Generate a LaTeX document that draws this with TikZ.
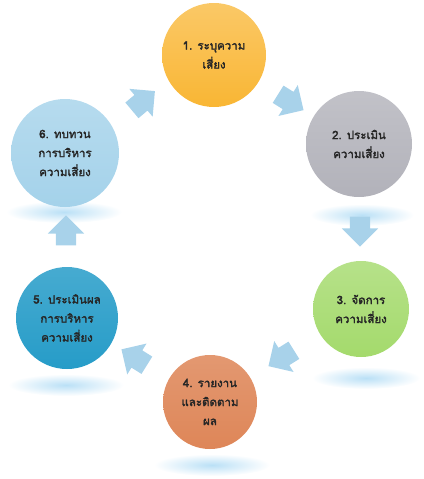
\documentclass[tikz,border=0pt]{standalone}
\usepackage{fontspec}
\newfontfamily\thaifont[Script=Thai,FakeBold=2.2]{Loma}
\usepackage{tikz}
\usetikzlibrary{shapes.arrows,calc}
\definecolor{stepone}{RGB}{249,182,52}
\definecolor{steptwo}{RGB}{178,178,186}
\definecolor{stepthree}{RGB}{164,218,108}
\definecolor{stepfour}{RGB}{222,134,88}
\definecolor{stepfive}{RGB}{38,156,200}
\definecolor{stepsix}{RGB}{164,210,234}
\definecolor{flowblue}{RGB}{168,210,234}
\definecolor{glowblue}{RGB}{186,224,246}
\tikzset{
  % วงกลมของแต่ละขั้น
  stage/.style={
    circle,
    inner sep=0pt,
    align=center,
    font=\thaifont\fontsize{11.5}{19}\selectfont,
    text=black!85
  },
  % ลูกศรระหว่างขั้น
  flow/.style={
    single arrow,
    fill=flowblue,
    draw=none,
    inner xsep=0pt,
    inner ysep=10pt,
    minimum height=30pt,
    single arrow head extend=8pt,
    single arrow head indent=0pt
  },
  % เงาสะท้อนใต้วงกลม
  glow/.style={inner color=glowblue, outer color=white}
}

\begin{document}
\begin{tikzpicture}[x=1pt,y=-1pt]
    \useasboundingbox (0,0) rectangle (423,479);

    % Reflections
    \foreach \x/\y/\w in {362/215/52, 366/378/54, 212/465/58, 66/385/58, 64/212/58} {
        \shade[glow] (\x,\y) ellipse ({\w pt} and 11pt);
    }

    % Stages
    \node[stage, minimum size=104pt, top color=stepone!75!white, bottom color=stepone] (c1) at (214,55) {1. ระบุความ\\เสี่ยง};
    \node[stage, minimum size=106pt, top color=steptwo!80!white, bottom color=steptwo] (c2) at (359,144) {2. ประเมิน\\ความเสี่ยง};
    \node[stage, minimum size=96pt, top color=stepthree!80!white, bottom color=stepthree] (c3) at (361,309) {3. จัดการ\\ความเสี่ยง};
    \node[stage, minimum size=94pt, top color=stepfour!85!white, bottom color=stepfour] (c4) at (210,402) {4. รายงาน\\และติดตาม\\ผล};
    \node[stage, minimum size=102pt, top color=stepfive!85!white, bottom color=stepfive] (c5) at (67,318) {5. ประเมินผล\\การบริหาร\\ความเสี่ยง};
    \node[stage, minimum size=108pt, top color=stepsix!80!white, bottom color=stepsix] (c6) at (65,153) {6. ทบทวน\\การบริหาร\\ความเสี่ยง};

    % Arrows between stages
    \foreach \a/\b/\r in {c6/c1/40, c1/c2/-32, c2/c3/-90, c3/c4/212, c4/c5/148, c5/c6/90} {
        \node[flow, rotate=\r] (to-\b) at ($(\a)!0.5!(\b)$) {};
    }
\end{tikzpicture}
\end{document}
